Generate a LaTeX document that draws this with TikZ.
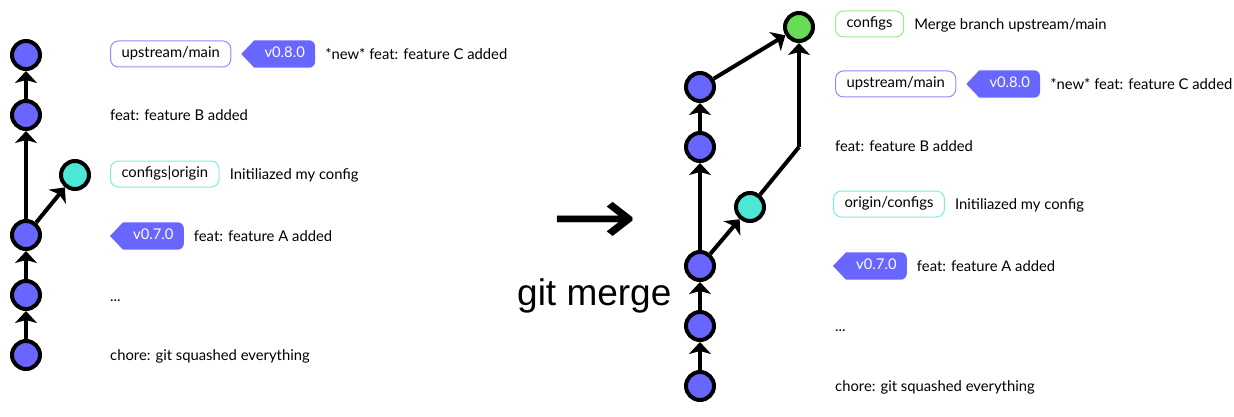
\documentclass[tikz,border=0pt]{standalone}
\usepackage{fontspec}
\setmainfont{Lato}
\newfontfamily\dejavu{DejaVu Sans}
\newfontfamily\libsans{Liberation Sans}
\usetikzlibrary{arrows.meta,positioning,backgrounds}
\definecolor{cblue}{HTML}{6966FF}
\definecolor{cteal}{HTML}{4BE8D6}
\definecolor{cgreen}{HTML}{66DD55}
\definecolor{bblue}{HTML}{8F8CFF}
\definecolor{bteal}{HTML}{7DEDE2}
\definecolor{bgreen}{HTML}{9FE892}
\newcommand\tagfill[1]{%
  \begin{pgfonlayer}{background}
  \fill[cblue] (#1.north west) -- ([xshift=-13pt]#1.west) -- (#1.south west)
    -- ([xshift=-6pt]#1.south east) arc[start angle=-90,end angle=0,radius=6pt]
    -- ([yshift=-6pt]#1.north east) arc[start angle=0,end angle=90,radius=6pt] -- cycle;
  \end{pgfonlayer}}
\begin{document}
\begin{tikzpicture}[x=1pt,y=1pt,
  font=\fontsize{14.8}{17}\selectfont,
  commit/.style={circle,draw=black,line width=4pt,minimum size=28pt,inner sep=0pt,fill=#1},
  link/.style={line width=4pt,-{Stealth[length=12pt,width=22pt,inset=3pt]}},
  plainlink/.style={line width=4pt},
  txt/.style={text height=10.5pt,text depth=3pt},
  refbox/.style={txt,draw=#1,rounded corners=8pt,line width=1pt,inner xsep=11pt,inner ysep=0pt,minimum height=26pt,fill=white,anchor=west},
  tagnode/.style={txt,text=white,inner xsep=10pt,inner ysep=0pt,minimum height=27pt,anchor=west},
  msg/.style={text height=14pt,text depth=3pt,anchor=west,inner sep=0pt}]
\useasboundingbox (0,0) rectangle (1234,-417);

% ---------- left graph ----------
\node[commit=cblue] (L0) at (26,-55) {};
\node[commit=cblue] (L1) at (26,-115) {};
\node[commit=cteal] (Lc) at (75,-175) {};
\node[commit=cblue] (L3) at (26,-235) {};
\node[commit=cblue] (L4) at (26,-295) {};
\node[commit=cblue] (L5) at (26,-355) {};
\draw[link] (L5) -- (L4);
\draw[link] (L4) -- (L3);
\draw[link] (L3) -- (L1);
\draw[link] (L1) -- (L0);
\draw[link] (L3) -- (Lc);

% left labels
\node[refbox=bblue] (lub) at (110,-54) {upstream/main};
\node[tagnode,right=23pt of lub] (lt8) {v0.8.0};
\tagfill{lt8}
\node[msg,right=10pt of lt8] (lm0) {*new* feat: feature C added};
\node[msg] (lm1) at (110,-115) {feat: feature B added};
\node[refbox=bteal] (lco) at (110,-174) {configs|origin};
\node[msg,right=10pt of lco] (lm2) {Initiliazed my config};
\node[tagnode] (lt7) at (123,-236) {v0.7.0};
\tagfill{lt7}
\node[msg,right=10pt of lt7] (lm3) {feat: feature A added};
\node[msg] (lm4) at (110,-296) {...};
\node[msg] (lm5) at (110,-355) {chore: git squashed everything};

% ---------- middle ----------
\node[font=\dejavu\fontsize{80}{80}\selectfont,xscale=1.29,inner sep=0pt] (arr) at (595,-223) {→};
\node[font=\libsans\fontsize{37}{37}\selectfont,anchor=base west,inner sep=0pt] (gm) at (517,-305) {git merge};

% ---------- right graph ----------
\node[commit=cgreen] (R0) at (799,-27) {};
\node[commit=cblue] (R1) at (700,-87) {};
\node[commit=cblue] (R2) at (700,-147) {};
\node[commit=cteal] (Rc) at (750,-207) {};
\node[commit=cblue] (R4) at (700,-266) {};
\node[commit=cblue] (R5) at (700,-326) {};
\node[commit=cblue] (R6) at (700,-386) {};
\coordinate (Rb) at (799,-147);
\draw[link] (R6) -- (R5);
\draw[link] (R5) -- (R4);
\draw[link] (R4) -- (R2);
\draw[link] (R2) -- (R1);
\draw[link] (R1) -- (R0);
\draw[link] (R4) -- (Rc);
\draw[plainlink] (Rc) -- (Rb);
\draw[link] (Rb) -- (R0);

% right labels
\node[refbox=bgreen] (rcf) at (835,-24) {configs};
\node[msg,right=10pt of rcf] (rm0) {Merge branch upstream/main};
\node[refbox=bblue] (rub) at (835,-84) {upstream/main};
\node[tagnode,right=23pt of rub] (rt8) {v0.8.0};
\tagfill{rt8}
\node[msg,right=10pt of rt8] (rm1) {*new* feat: feature C added};
\node[msg] (rm2) at (835,-146) {feat: feature B added};
\node[refbox=bteal] (roc) at (833,-204) {origin/configs};
\node[msg,right=10pt of roc] (rm3) {Initiliazed my config};
\node[tagnode] (rt7) at (846,-266) {v0.7.0};
\tagfill{rt7}
\node[msg,right=10pt of rt7] (rm4) {feat: feature A added};
\node[msg] (rm5) at (835,-326) {...};
\node[msg] (rm6) at (835,-386) {chore: git squashed everything};
\end{tikzpicture}
\end{document}
